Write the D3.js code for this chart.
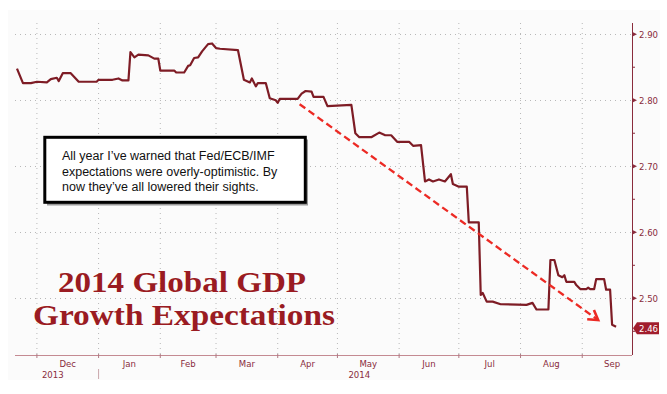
<!DOCTYPE html>
<html>
<head>
<meta charset="utf-8">
<script src="https://cdnjs.cloudflare.com/ajax/libs/d3/7.8.5/d3.min.js"></script>
<style>
  body { margin: 0; background: #fff; }
  svg { display: block; }
</style>
</head>
<body>
<div id="chart"></div>
<script>
var width = 667;
var height = 394;
var margin = {top: 23, right: 35, bottom: 39, left: 15};

// forecast series (date, % growth)
var dates = ["2013-11-21", "2013-11-24", "2013-11-28", "2013-12-01", "2013-12-06", "2013-12-08",
             "2013-12-11", "2013-12-12", "2013-12-14", "2013-12-18", "2013-12-22", "2013-12-31",
             "2014-01-01", "2014-01-08", "2014-01-11", "2014-01-13", "2014-01-16", "2014-01-17",
             "2014-01-19", "2014-01-21", "2014-01-26", "2014-01-29", "2014-01-31", "2014-02-01",
             "2014-02-08", "2014-02-09", "2014-02-13", "2014-02-15", "2014-02-16", "2014-02-18",
             "2014-02-20", "2014-02-22", "2014-02-25", "2014-02-27", "2014-03-01", "2014-03-03",
             "2014-03-12", "2014-03-15", "2014-03-18", "2014-03-19", "2014-03-21", "2014-03-22",
             "2014-03-26", "2014-03-28", "2014-03-31", "2014-04-01", "2014-04-02", "2014-04-11",
             "2014-04-13", "2014-04-15", "2014-04-18", "2014-04-19", "2014-04-24", "2014-04-26",
             "2014-05-08", "2014-05-10", "2014-05-12", "2014-05-18", "2014-05-22", "2014-05-25",
             "2014-05-28", "2014-05-31", "2014-06-06", "2014-06-08", "2014-06-12", "2014-06-14",
             "2014-06-16", "2014-06-18", "2014-06-21", "2014-06-24", "2014-06-27", "2014-06-28",
             "2014-07-01", "2014-07-05", "2014-07-06", "2014-07-11", "2014-07-12", "2014-07-13",
             "2014-07-15", "2014-07-18", "2014-07-22", "2014-08-04", "2014-08-07", "2014-08-09",
             "2014-08-15", "2014-08-16", "2014-08-18", "2014-08-20", "2014-08-22", "2014-08-23",
             "2014-08-24", "2014-08-28", "2014-08-29", "2014-08-31", "2014-09-03", "2014-09-04",
             "2014-09-05", "2014-09-07", "2014-09-08", "2014-09-12", "2014-09-13", "2014-09-15",
             "2014-09-16", "2014-09-18"];
var values = [2.848, 2.826, 2.826, 2.828, 2.827, 2.832,
              2.834, 2.829, 2.841, 2.841, 2.828, 2.828,
              2.831, 2.831, 2.833, 2.830, 2.830, 2.873,
              2.865, 2.869, 2.868, 2.863, 2.863, 2.845,
              2.845, 2.842, 2.842, 2.852, 2.853, 2.864,
              2.865, 2.874, 2.885, 2.886, 2.879, 2.878,
              2.876, 2.831, 2.827, 2.833, 2.821, 2.826,
              2.826, 2.803, 2.800, 2.796, 2.802, 2.802,
              2.810, 2.814, 2.813, 2.805, 2.805, 2.791,
              2.793, 2.750, 2.744, 2.744, 2.751, 2.747,
              2.747, 2.737, 2.737, 2.731, 2.732, 2.677,
              2.680, 2.677, 2.680, 2.677, 2.688, 2.673,
              2.669, 2.669, 2.615, 2.615, 2.505, 2.508,
              2.495, 2.495, 2.491, 2.490, 2.493, 2.483,
              2.483, 2.558, 2.558, 2.535, 2.532, 2.535,
              2.525, 2.525, 2.520, 2.514, 2.514, 2.516,
              2.514, 2.514, 2.529, 2.529, 2.513, 2.513,
              2.460, 2.457];

var xDomain = ["2013-11-20", "2014-09-26"];
var yDomain = [2.4141, 2.917];
var yTicks = [2.50, 2.60, 2.70, 2.80, 2.90];
var yMinorTicks = [2.45, 2.55, 2.65, 2.75, 2.85];
var monthLabels = ["Dec", "Jan", "Feb", "Mar", "Apr", "May", "Jun", "Jul", "Aug", "Sep"];
var yearLabels = [{date: "2013-12-09", text: "2013"}, {date: "2014-05-12", text: "2014"}];
var yearBreak = "2014-01-01";
var trendArrow = [{date: "2014-04-12", value: 2.794}, {date: "2014-09-09", value: 2.467}];
var noteLines = ["All year I\u2019ve warned that Fed/ECB/IMF",
                 "expectations were overly-optimistic. By",
                 "now they\u2019ve all lowered their sights."];
var titleLines = ["2014 Global GDP", "Growth Expectations"];

var parse = d3.timeParse("%Y-%m-%d");
var axisColor = "#8a2c3c";
var lineColor = "#7e1c25";

var data = dates.map((d, i) => ({date: parse(d), value: values[i]}));

var x = d3.scaleTime()
          .domain(xDomain.map(parse))
          .range([margin.left, width - margin.right]);

var y = d3.scaleLinear()
          .domain(yDomain)
          .range([height - margin.bottom, margin.top]);

var svg = d3.select("#chart")
            .append("svg")
            .attr("width", width)
            .attr("height", height);

svg.append("rect")
   .attr("x", 8)
   .attr("y", 10)
   .attr("width", 652)
   .attr("height", 370)
   .style("fill", "#fbfbfb");

var x0 = x.range()[0], x1 = x.range()[1];
var y0 = y.range()[0], y1 = y.range()[1];

// month starts Dec..Sep, plus Oct as the closing edge for the label centres
var months = d3.timeMonth.range(parse("2013-12-01"), parse("2014-10-02"));
var gridMonths = months.filter(d => x(d) < x1);

// dotted grid
svg.append("g")
   .selectAll("line")
   .data(gridMonths)
   .enter()
   .append("line")
   .attr("x1", d => x(d))
   .attr("x2", d => x(d))
   .attr("y1", y1)
   .attr("y2", y0)
   .style("stroke", "#b8b8b8")
   .style("stroke-width", 1)
   .style("stroke-dasharray", "1,4");

svg.append("g")
   .selectAll("line")
   .data(yTicks)
   .enter()
   .append("line")
   .attr("x1", x0)
   .attr("x2", x1)
   .attr("y1", d => Math.round(y(d)) + 0.5)
   .attr("y2", d => Math.round(y(d)) + 0.5)
   .style("stroke", "#b8b8b8")
   .style("stroke-width", 1)
   .style("stroke-dasharray", "1,4");

// title
var title = svg.append("g")
               .style("font-family", "'Liberation Serif', 'Times New Roman', serif")
               .style("font-weight", "bold")
               .style("fill", "#9a1b22");

title.append("text")
     .attr("x", 182)
     .attr("y", 291.5)
     .attr("text-anchor", "middle")
     .attr("textLength", 248)
     .attr("lengthAdjust", "spacingAndGlyphs")
     .style("font-size", "29px")
     .text(titleLines[0]);

title.append("text")
     .attr("x", 184)
     .attr("y", 325)
     .attr("text-anchor", "middle")
     .attr("textLength", 302)
     .attr("lengthAdjust", "spacingAndGlyphs")
     .style("font-size", "29px")
     .text(titleLines[1]);

// note box
var note = svg.append("g");

note.append("rect")
    .attr("x", 47)
    .attr("y", 139.5)
    .attr("width", 261)
    .attr("height", 66)
    .style("fill", "#9a9a9a");

note.append("rect")
    .attr("x", 44.8)
    .attr("y", 137.3)
    .attr("width", 260.5)
    .attr("height", 65)
    .style("fill", "#fff")
    .style("stroke", "#000")
    .style("stroke-width", 3);

note.selectAll("text")
    .data(noteLines)
    .enter()
    .append("text")
    .attr("x", 62)
    .attr("y", (d, i) => 160 + i * 15.6)
    .style("font-family", "'Liberation Sans', Arial, sans-serif")
    .style("font-size", "12.5px")
    .style("fill", "#111")
    .text(d => d);

// series
var line = d3.line()
             .x(d => x(d.date))
             .y(d => y(d.value));

svg.append("path")
   .datum(data)
   .attr("d", line)
   .style("fill", "none")
   .style("stroke", lineColor)
   .style("stroke-width", 2.2)
   .style("stroke-linejoin", "round");

// trend arrow
var ax1 = x(parse(trendArrow[0].date)), ay1 = y(trendArrow[0].value);
var ax2 = x(parse(trendArrow[1].date)), ay2 = y(trendArrow[1].value);
var ang = Math.atan2(ay2 - ay1, ax2 - ax1);
var head = 11;

svg.append("line")
   .attr("x1", ax1)
   .attr("y1", ay1)
   .attr("x2", ax2 - 2 * Math.cos(ang))
   .attr("y2", ay2 - 2 * Math.sin(ang))
   .style("stroke", "#ec2a24")
   .style("stroke-width", 2.3)
   .style("stroke-dasharray", "7,4");

svg.append("path")
   .attr("d", "M" + (ax2 - head * Math.cos(ang - 0.55)) + "," + (ay2 - head * Math.sin(ang - 0.55)) +
              "L" + ax2 + "," + ay2 +
              "L" + (ax2 - head * Math.cos(ang + 0.55)) + "," + (ay2 - head * Math.sin(ang + 0.55)))
   .style("fill", "none")
   .style("stroke", "#ec2a24")
   .style("stroke-width", 2.6);

// x axis
var xAxis = svg.append("g")
               .style("font-family", "'DejaVu Sans Condensed', 'DejaVu Sans', sans-serif")
               .style("font-size", "9.5px")
               .style("fill", axisColor);

xAxis.append("line")
     .attr("x1", x0)
     .attr("x2", x1)
     .attr("y1", y0 + 0.5)
     .attr("y2", y0 + 0.5)
     .style("stroke", "#c48a92")
     .style("stroke-width", 1);

xAxis.selectAll(".tick")
     .data(gridMonths)
     .enter()
     .append("line")
     .attr("class", "tick")
     .attr("x1", d => x(d))
     .attr("x2", d => x(d))
     .attr("y1", y0 - 1)
     .attr("y2", y0 + 3)
     .style("stroke", "#b07a84");

xAxis.selectAll(".mlabel")
     .data(monthLabels)
     .enter()
     .append("text")
     .attr("class", "mlabel")
     .attr("x", (d, i) => (x(months[i]) + x(d3.timeMonth.offset(months[i], 1))) / 2)
     .attr("y", 367)
     .attr("text-anchor", "middle")
     .text(d => d);

xAxis.selectAll(".ylabel")
     .data(yearLabels)
     .enter()
     .append("text")
     .attr("class", "ylabel")
     .attr("x", d => x(parse(d.date)))
     .attr("y", 378)
     .attr("text-anchor", "middle")
     .text(d => d.text);

xAxis.append("line")
     .attr("x1", x(parse(yearBreak)))
     .attr("x2", x(parse(yearBreak)))
     .attr("y1", 369)
     .attr("y2", 379)
     .style("stroke", "#c9a6ab");

// right axis
var yAxis = svg.append("g")
               .style("font-family", "'DejaVu Sans Condensed', 'DejaVu Sans', sans-serif")
               .style("font-size", "9.5px")
               .style("fill", axisColor);

yAxis.append("line")
     .attr("x1", x1 + 0.5)
     .attr("x2", x1 + 0.5)
     .attr("y1", y1)
     .attr("y2", y0)
     .style("stroke", axisColor)
     .style("stroke-width", 1);

yAxis.selectAll(".minor")
     .data(yMinorTicks)
     .enter()
     .append("line")
     .attr("class", "minor")
     .attr("x1", x1)
     .attr("x2", x1 + 3)
     .attr("y1", d => y(d))
     .attr("y2", d => y(d))
     .style("stroke", axisColor);

yAxis.selectAll(".major")
     .data(yTicks)
     .enter()
     .append("path")
     .attr("class", "major")
     .attr("d", d => "M" + (x1 + 1) + "," + (y(d) - 2) + "L" + (x1 + 5) + "," + y(d) + "L" + (x1 + 1) + "," + (y(d) + 2) + "Z")
     .style("fill", axisColor);

yAxis.selectAll(".ylab")
     .data(yTicks)
     .enter()
     .append("text")
     .attr("class", "ylab")
     .attr("x", x1 + 7)
     .attr("y", d => y(d) + 3.5)
     .text(d => d.toFixed(2));

// last value tag
var last = data[data.length - 1];
var ly = y(last.value) + 1.5;

yAxis.append("path")
     .attr("d", "M" + (x1 + 1) + "," + ly + "L" + (x1 + 5) + "," + (ly - 6) + "L" + (x1 + 27) + "," + (ly - 6) +
                "L" + (x1 + 27) + "," + (ly + 6) + "L" + (x1 + 5) + "," + (ly + 6) + "Z")
     .style("fill", "#a11d2d");

yAxis.append("text")
     .attr("x", x1 + 7)
     .attr("y", ly + 3.5)
     .style("fill", "#fff")
     .text(d3.format(".2f")(last.value));
</script>
</body>
</html>
